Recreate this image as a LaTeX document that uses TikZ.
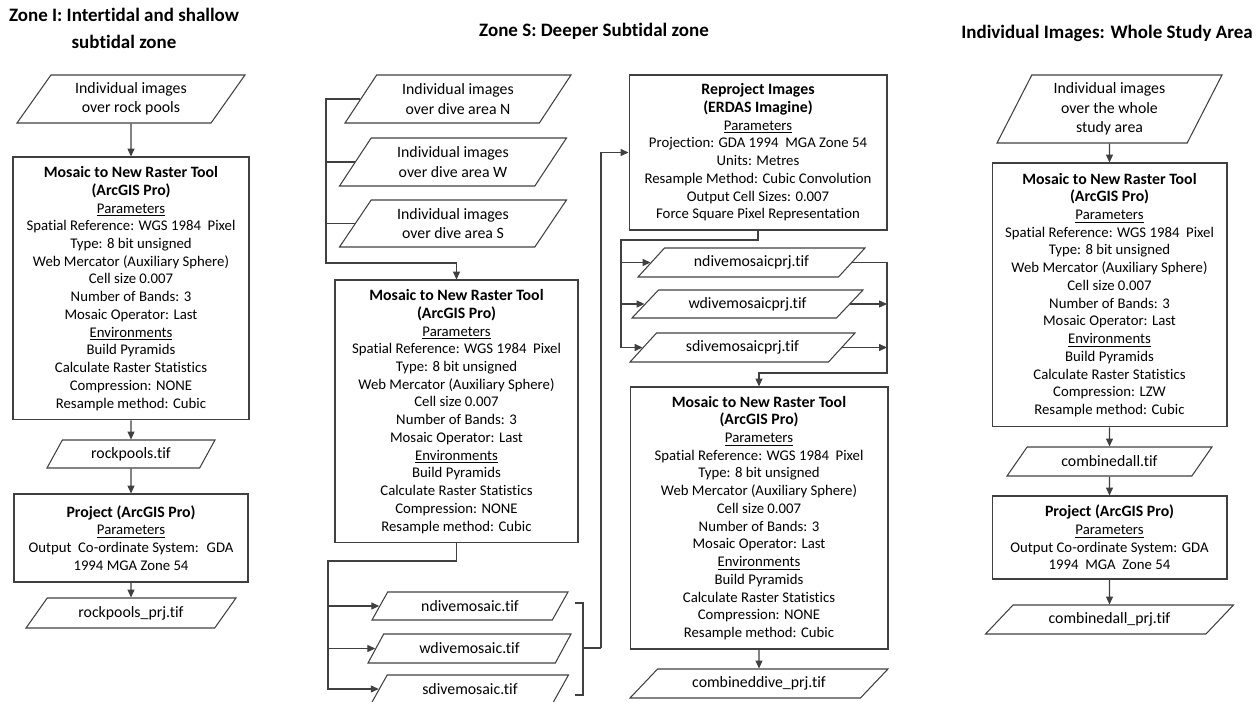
\documentclass[tikz,border=0pt]{standalone}
\usepackage{fontspec}
\setmainfont{Carlito}[Ligatures=NoCommon]
\usepackage{tikz}
\usetikzlibrary{shapes.geometric,arrows.meta,positioning,calc}

\begin{document}
\begin{tikzpicture}[x=0.02cm, y=-0.02cm,
        proc/.style={draw=black!75, line width=0.6pt, fill=white, align=center,
          font=\fontsize{8.4}{10.1}\selectfont, inner sep=2pt},
        datafile/.style={trapezium, trapezium left angle=#1, trapezium right angle={180-#1},
          trapezium stretches body, draw=black!75, line width=0.6pt, align=center,
          font=\fontsize{9}{11}\selectfont, inner sep=1pt},
        datafile/.default=45,
        ttl/.style={font=\fontsize{10.8}{15.4}\selectfont\bfseries, align=center},
        link/.style={draw=black!75, line width=0.6pt},
        >={Triangle[length=4.5pt,width=4pt]}
      ]
        \useasboundingbox (0,0) rectangle (1259,702);

        % titles
        \node[ttl] (tZoneI) at (124,28) {Zone I: Intertidal and shallow\\subtidal zone};
        \node[ttl] (tZoneS) at (594,31) {Zone S: Deeper Subtidal zone};
        \node[ttl] (tWhole) at (1107,33) {Individual Images: Whole Study Area};

        % Zone I
        \node[datafile=47, minimum width=4.56cm, minimum height=0.96cm] (rockIn) at (131,99)
          {Individual images\\over rock pools};
        \node[proc, minimum width=4.72cm, minimum height=5.26cm] (rockMos) at (131,288.5) {%
          {\bfseries\fontsize{9}{10.1}\selectfont Mosaic to New Raster Tool}\\
          {\bfseries\fontsize{9}{10.1}\selectfont (ArcGIS Pro)}\\
          \underline{Parameters}\\
          Spatial Reference: WGS 1984~ Pixel\\
          Type: 8 bit unsigned\\
          Web Mercator (Auxiliary Sphere)\\
          Cell size 0.007\\
          Number of Bands: 3\\
          Mosaic Operator: Last\\
          \underline{Environments}\\
          Build Pyramids\\
          Calculate Raster Statistics\\
          Compression: NONE\\
          Resample method: Cubic};
        \node[datafile=48, minimum width=3.36cm, minimum height=0.56cm] (rockTif) at (131,454)
          {rockpools.tif};
        \node[proc, minimum width=4.68cm, minimum height=1.76cm] (rockPrj) at (131,538) {%
          {\bfseries\fontsize{9}{10.1}\selectfont Project (ArcGIS Pro)}\\
          \underline{Parameters}\\
          Output~ Co-ordinate System:~ GDA\\
          1994 MGA Zone 54};
        \node[datafile=39, minimum width=4.2cm, minimum height=0.6cm] (rockOut) at (131,613)
          {rockpools\_prj.tif};

        \draw[link,->] (rockIn) -- (rockMos);
        \draw[link,->] (rockMos) -- (rockTif);
        \draw[link,->] (rockTif) -- (rockPrj);
        \draw[link,->] (rockPrj) -- (rockOut);

        % Zone S: dive areas
        \node[datafile=47, minimum width=4.52cm, minimum height=0.96cm] (diveN) at (458,99)
          {Individual images\\over dive area N};
        \node[datafile=47, minimum width=4.54cm, minimum height=0.96cm] (diveW) at (453,162)
          {Individual images\\over dive area W};
        \node[datafile=47, minimum width=4.54cm, minimum height=0.94cm] (diveS) at (453,223.5)
          {Individual images\\over dive area S};
        \node[proc, minimum width=4.86cm, minimum height=5.26cm] (diveMos) at (456.5,411.5) {%
          {\bfseries\fontsize{9}{10.1}\selectfont Mosaic to New Raster Tool}\\
          {\bfseries\fontsize{9}{10.1}\selectfont (ArcGIS Pro)}\\
          \underline{Parameters}\\
          Spatial Reference: WGS 1984~ Pixel\\
          Type: 8 bit unsigned\\
          Web Mercator (Auxiliary Sphere)\\
          Cell size 0.007\\
          Number of Bands: 3\\
          Mosaic Operator: Last\\
          \underline{Environments}\\
          Build Pyramids\\
          Calculate Raster Statistics\\
          Compression: NONE\\
          Resample method: Cubic};
        \node[datafile=43, minimum width=3.92cm, minimum height=0.56cm] (nTif) at (470,606)
          {ndivemosaic.tif};
        \node[datafile=43, minimum width=4.06cm, minimum height=0.58cm] (wTif) at (469.5,648.5)
          {wdivemosaic.tif};
        \node[datafile=43, minimum width=3.94cm, minimum height=0.56cm] (sTif) at (470,689)
          {sdivemosaic.tif};

        \coordinate (busC) at (326,263);
        \draw[link,->] (diveN.west) -| (busC) -- (busC -| diveMos.north) -- (diveMos.north);
        \draw[link] (diveW.west) -- (diveW.west -| busC);
        \draw[link] (diveS.west) -- (diveS.west -| busC);

        \coordinate (busD) at (328,561);
        \draw[link,->] (diveMos.south) |- (busD) |- (sTif.west);
        \draw[link,->] (busD |- nTif.west) -- (nTif.west);
        \draw[link,->] (busD |- wTif.west) -- (wTif.west);

        % bracket over the three mosaics
        \coordinate (brT) at (575,603);
        \coordinate (brB) at (575,695);
        \coordinate (brM) at (583,648);
        \coordinate (busE) at (601,648);
        \draw[link] (brT) -- ++(8,0) -- ++(0,92) -- (brB);
        \draw[link] (brM) -- (busE);

        % Zone S: reprojection
        \node[proc, minimum width=5.16cm, minimum height=3.1cm] (reproj) at (758,152.5) {%
          {\bfseries\fontsize{9}{10.1}\selectfont Reproject Images}\\
          {\bfseries\fontsize{9}{10.1}\selectfont (ERDAS Imagine)}\\
          \underline{Parameters}\\
          Projection: GDA 1994~ MGA Zone 54\\
          Units: Metres\\
          Resample Method: Cubic Convolution\\
          Output Cell Sizes: 0.007\\
          Force Square Pixel Representation};
        \draw[link,->] (busE) |- (reproj.west);

        \node[datafile=33, minimum width=4.54cm, minimum height=0.58cm] (nPrj) at (751.5,262.5)
          {ndivemosaicprj.tif};
        \node[datafile=33, minimum width=4.62cm, minimum height=0.56cm] (wPrj) at (747.5,304)
          {wdivemosaicprj.tif};
        \node[datafile=33, minimum width=4.5cm, minimum height=0.58cm] (sPrj) at (742.5,347.5)
          {sdivemosaicprj.tif};

        \coordinate (busF) at (621,240);
        \draw[link,->] (reproj.south) |- (busF) |- (sPrj.west);
        \draw[link,->] (busF |- nPrj.west) -- (nPrj.west);
        \draw[link,->] (busF |- wPrj.west) -- (wPrj.west);

        \node[proc, minimum width=5.16cm, minimum height=5.24cm] (diveMos2) at (759,518) {%
          {\bfseries\fontsize{9}{10.1}\selectfont Mosaic to New Raster Tool}\\
          {\bfseries\fontsize{9}{10.1}\selectfont (ArcGIS Pro)}\\
          \underline{Parameters}\\
          Spatial Reference: WGS 1984~ Pixel\\
          Type: 8 bit unsigned\\
          Web Mercator (Auxiliary Sphere)\\
          Cell size 0.007\\
          Number of Bands: 3\\
          Mosaic Operator: Last\\
          \underline{Environments}\\
          Build Pyramids\\
          Calculate Raster Statistics\\
          Compression: NONE\\
          Resample method: Cubic};
        \node[datafile=32, minimum width=5.16cm, minimum height=0.58cm] (diveOut) at (759,683.5)
          {combineddive\_prj.tif};

        \coordinate (busG) at (887,373);
        \draw[link,->] (nPrj.east) -| (busG) -| (diveMos2.north);
        \draw[link,->] (wPrj.east) -- (wPrj.east -| busG);
        \draw[link,->] (sPrj.east) -- (sPrj.east -| busG);
        \draw[link,->] (diveMos2) -- (diveOut);

        % whole study area
        \node[datafile=58, minimum width=4.5cm, minimum height=1.36cm] (wholeIn) at (1109.5,109)
          {Individual images\\over the whole\\study area};
        \node[proc, minimum width=4.7cm, minimum height=5.28cm] (wholeMos) at (1109.5,295) {%
          {\bfseries\fontsize{9}{10.1}\selectfont Mosaic to New Raster Tool}\\
          {\bfseries\fontsize{9}{10.1}\selectfont (ArcGIS Pro)}\\
          \underline{Parameters}\\
          Spatial Reference: WGS 1984~ Pixel\\
          Type: 8 bit unsigned\\
          Web Mercator (Auxiliary Sphere)\\
          Cell size 0.007\\
          Number of Bands: 3\\
          Mosaic Operator: Last\\
          \underline{Environments}\\
          Build Pyramids\\
          Calculate Raster Statistics\\
          Compression: LZW\\
          Resample method: Cubic};
        \node[datafile=36, minimum width=4.1cm, minimum height=0.58cm] (wholeTif) at (1109.5,461.5)
          {combinedall.tif};
        \node[proc, minimum width=4.7cm, minimum height=1.66cm] (wholePrj) at (1109.5,537.5) {%
          {\bfseries\fontsize{9}{10.1}\selectfont Project (ArcGIS Pro)}\\
          \underline{Parameters}\\
          Output Co-ordinate System: GDA\\
          1994~ MGA~ Zone 54};
        \node[datafile=32, minimum width=4.96cm, minimum height=0.58cm] (wholeOut) at (1109.5,619.5)
          {combinedall\_prj.tif};

        \draw[link,->] (wholeIn) -- (wholeMos);
        \draw[link,->] (wholeMos) -- (wholeTif);
        \draw[link,->] (wholeTif) -- (wholePrj);
        \draw[link,->] (wholePrj) -- (wholeOut);
      \end{tikzpicture}
\end{document}
